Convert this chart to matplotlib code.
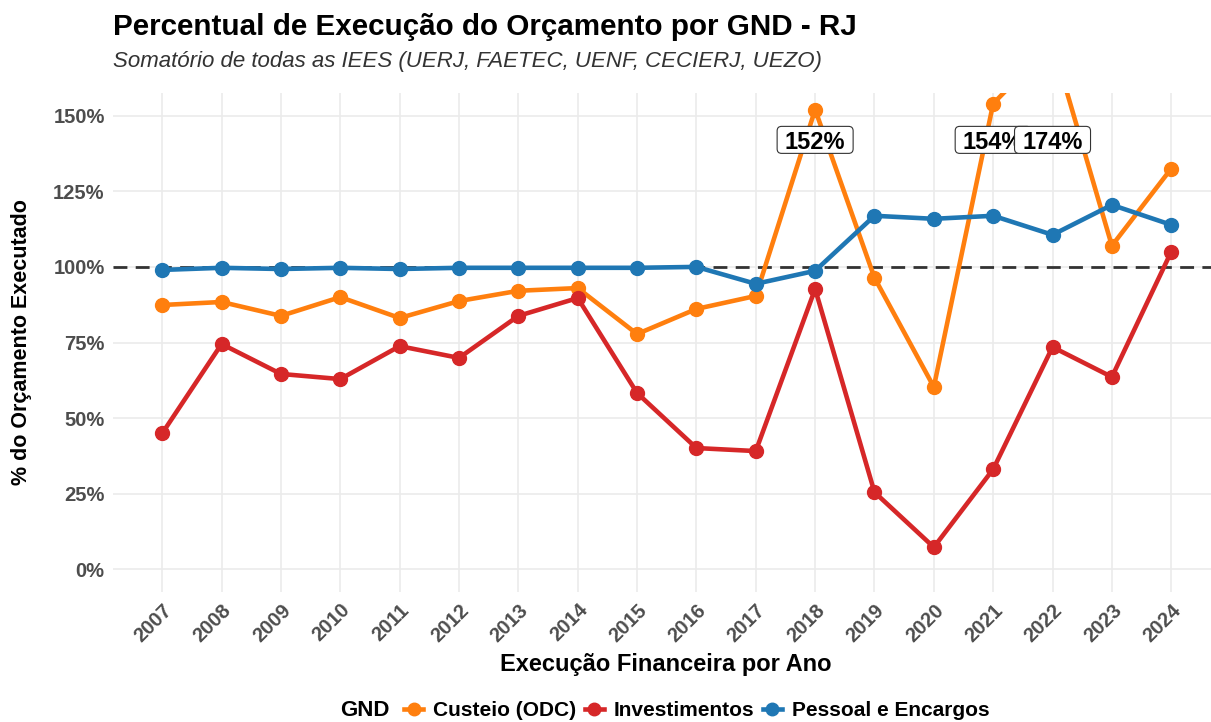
import matplotlib
matplotlib.use("Agg")
import matplotlib.pyplot as plt
from matplotlib.lines import Line2D
from matplotlib.patches import FancyBboxPatch
import matplotlib.transforms as mtransforms
import matplotlib.ticker as mticker

plt.rcParams['font.family'] = ['Liberation Sans', 'DejaVu Sans']

years = list(range(2007, 2025))
custeio = [0.874, 0.884, 0.838, 0.900, 0.831, 0.887, 0.921, 0.930, 0.778, 0.861,
           0.904, 1.52, 0.964, 0.603, 1.54, 1.74, 1.070, 1.325]
invest = [0.450, 0.745, 0.646, 0.629, 0.738, 0.699, 0.838, 0.897, 0.583, 0.401,
          0.391, 0.927, 0.255, 0.073, 0.331, 0.735, 0.636, 1.050]
pessoal = [0.990, 0.997, 0.993, 0.997, 0.993, 0.997, 0.997, 0.997, 0.997, 1.000,
           0.944, 0.987, 1.169, 1.159, 1.169, 1.106, 1.205, 1.139]
series_names = ["Custeio (ODC)", "Investimentos", "Pessoal e Encargos"]
series_vals = [custeio, invest, pessoal]
colors = ["#FF7F0E", "#D62728", "#1F77B4"]
label_years = [2018, 2021, 2022]
label_vals = [1.52, 1.54, 1.74]
label_y = 1.42

W, H = 1211, 722
fig = plt.figure(figsize=(W / 100, H / 100), dpi=100)
ax = fig.add_axes([113 / W, 1 - 592 / H, (1211 - 113) / W, (592 - 93) / H])

for name, vals, c in zip(series_names, series_vals, colors):
    ax.plot(years, vals, color=c, lw=3.3, marker='o', ms=10, label=name, zorder=3)

ax.axhline(1.0, color="#333333", lw=2.0, ls=(0, (5, 3)), zorder=2.5)

ax.set_xlim(2006.17, 2024.67)
ax.set_ylim(-0.075, 1.575)

z = 5
for yr, v in zip(label_years, label_vals):
    tr = mtransforms.IdentityTransform() + mtransforms.ScaledTranslation(yr, label_y, ax.transData)
    box = FancyBboxPatch((-38, -13.5), 76, 27,
                         boxstyle='round,pad=0,rounding_size=4.5',
                         fc='white', ec='#333333', lw=0.8, transform=tr, zorder=z)
    ax.add_patch(box)
    ax.text(yr, label_y, f"{v*100:.0f}%", ha='center', va='center_baseline',
            fontsize=17, fontweight='bold', color='black', zorder=z + 0.5)
    z += 1

ax.set_xticks(years)
ax.set_xticklabels([str(y) for y in years], rotation=45, ha='right',
                   rotation_mode='anchor', fontsize=14.5, fontweight='bold', color='#4D4D4D')
ax.set_yticks([0, 0.25, 0.5, 0.75, 1.0, 1.25, 1.5])
ax.yaxis.set_major_formatter(mticker.FuncFormatter(lambda v, p: f"{v*100:.0f}%"))
for t in ax.get_yticklabels():
    t.set_fontsize(14.5)
    t.set_fontweight('bold')
    t.set_color('#4D4D4D')
ax.tick_params(length=0, pad=6)
ax.tick_params(axis='x', pad=6)
ax.grid(True, color='#EBEBEB', lw=1.2)
ax.set_axisbelow(True)
for s in ax.spines.values():
    s.set_visible(False)

fig.text(22 / W, 1 - 342 / H, "% do Orçamento Executado", rotation=90, ha='center',
         va='center', fontsize=15.5, fontweight='bold')
fig.text(666 / W, 1 - 665 / H, "Execução Financeira por Ano", ha='center', va='center',
         fontsize=17, fontweight='bold')
fig.text(113 / W, 1 - 27 / H, "Percentual de Execução do Orçamento por GND - RJ",
         ha='left', va='center', fontsize=21.3, fontweight='bold')
fig.text(113 / W, 1 - 62 / H, "Somatório de todas as IEES (UERJ, FAETEC, UENF, CECIERJ, UEZO)",
         ha='left', va='center', fontsize=16, style='italic', color='#333333')

handles = [Line2D([0], [0], color=c, lw=3.3, marker='o', ms=9) for c in colors]
fig.text(340 / W, 1 - 711 / H, "GND", ha='left', va='center', fontsize=16, fontweight='bold')
fig.legend(handles, series_names, loc='center', bbox_to_anchor=(697 / W, 1 - 711 / H),
           ncol=3, frameon=False, prop=dict(size=15, weight='bold'),
           handlelength=0.9, handletextpad=0.5, columnspacing=0.4, borderpad=0)

fig.savefig("out.png", dpi=100)
